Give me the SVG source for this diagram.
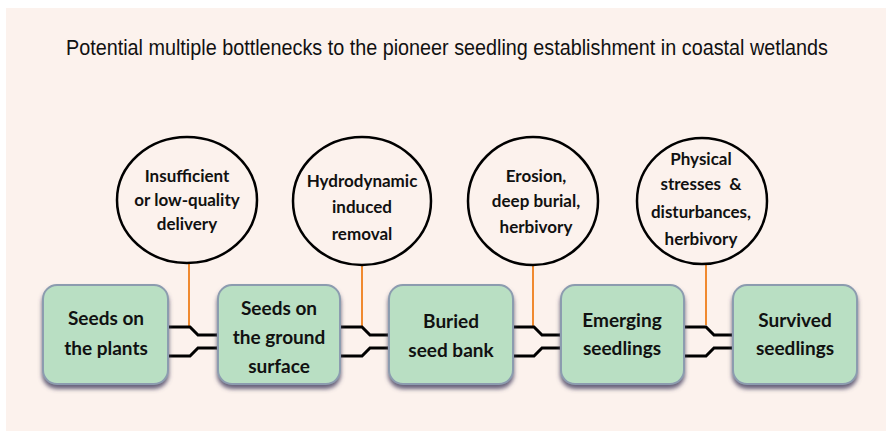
<svg xmlns="http://www.w3.org/2000/svg" width="886" height="431" viewBox="0 0 886 431">
<defs>
<filter id="sh" x="-20%" y="-20%" width="140%" height="150%">
<feDropShadow dx="0" dy="4" stdDeviation="2" flood-color="#4e4a66" flood-opacity="0.85"/>
</filter>
</defs>
<style>
.title{font-family:"Liberation Sans",Arial,sans-serif;font-size:22px;fill:#111}
.box{fill:#b9dfc3;stroke:#8c9caf;stroke-width:2;filter:url(#sh)}
.bt{font-family:Lato,"Open Sans",sans-serif;font-weight:bold;font-size:19px;fill:#111;text-anchor:middle}
.circ{fill:#fcf2ed;stroke:#000;stroke-width:2.5}
.ct{font-family:Lato,"Open Sans",sans-serif;font-weight:bold;font-size:17px;fill:#111;text-anchor:middle}
.or{stroke:#f08a30;stroke-width:2;fill:none}
.bl{stroke:#000;stroke-width:3;fill:none}
.fa{stroke:#8fb39a;stroke-width:1;fill:none;opacity:0.7}
.br{stroke:#333;stroke-width:1;fill:none}
</style>
<rect x="0" y="0" width="886" height="431" fill="#ffffff"/>
<rect x="6" y="8" width="880" height="423" fill="#fcf2ed"/>
<text class="title" transform="translate(447,55) scale(0.9,1)" x="0" y="0" text-anchor="middle">Potential multiple bottlenecks to the pioneer seedling establishment in coastal wetlands</text>

<g id="connectors">
<path class="or" d="M189 263 V327"/>
<path class="or" d="M362 266 V327"/>
<path class="or" d="M533 265 V327"/>
<path class="or" d="M706 265 V325"/>
<path class="fa" d="M148 327 H168 M148 356 H168"/>
<path class="fa" d="M320 327 H340 M320 356 H340"/>
<path class="fa" d="M493 327 H513 M493 356 H513"/>
<path class="fa" d="M664 327 H684 M664 356 H684"/>
<path class="bl" d="M168 327 H190 L198 335 H218 M168 356 H190 L198 348 H218"/>
<path class="bl" d="M340 327 H362 L370 335 H389 M340 356 H362 L370 348 H389"/>
<path class="bl" d="M513 327 H534 L542 335 H561 M513 356 H534 L542 348 H561"/>
<path class="bl" d="M684 327 H706 L714 335 H733 M684 356 H706 L714 348 H733"/>
<path class="br" d="M216 335 H219 V348 H216"/>
<path class="br" d="M387 335 H390 V348 H387"/>
<path class="br" d="M559 335 H562 V348 H559"/>
<path class="br" d="M731 335 H734 V348 H731"/>
</g>

<g id="box1">
<rect class="box" x="43" y="285" width="125" height="99" rx="14"/>
<text class="bt" x="106" y="325">Seeds on</text>
<text class="bt" x="106" y="355">the plants</text>
</g>
<g id="box2">
<rect class="box" x="218" y="285" width="122" height="99" rx="14"/>
<text class="bt" x="279" y="315">Seeds on</text>
<text class="bt" x="279" y="344">the ground</text>
<text class="bt" x="279" y="373">surface</text>
</g>
<g id="box3">
<rect class="box" x="389" y="285" width="124" height="99" rx="14"/>
<text class="bt" x="451" y="328">Buried</text>
<text class="bt" x="451" y="357">seed bank</text>
</g>
<g id="box4">
<rect class="box" x="561" y="285" width="123" height="99" rx="14"/>
<text class="bt" x="622" y="327">Emerging</text>
<text class="bt" x="622" y="355">seedlings</text>
</g>
<g id="box5">
<rect class="box" x="733" y="285" width="124" height="99" rx="14"/>
<text class="bt" x="795" y="327">Survived</text>
<text class="bt" x="795" y="355">seedlings</text>
</g>

<g id="c1">
<ellipse class="circ" cx="187" cy="200" rx="70" ry="63"/>
<text class="ct" x="187" y="182">Insufficient</text>
<text class="ct" x="187" y="206">or low-quality</text>
<text class="ct" x="187" y="230">delivery</text>
</g>
<g id="c2">
<ellipse class="circ" cx="362" cy="201" rx="69" ry="64"/>
<text class="ct" x="362" y="187">Hydrodynamic</text>
<text class="ct" x="362" y="213">induced</text>
<text class="ct" x="362" y="240">removal</text>
</g>
<g id="c3">
<ellipse class="circ" cx="533" cy="201" rx="65" ry="64"/>
<text class="ct" x="536" y="182">Erosion,</text>
<text class="ct" x="536" y="207">deep burial,</text>
<text class="ct" x="536" y="233">herbivory</text>
</g>
<g id="c4">
<ellipse class="circ" cx="702" cy="201" rx="65" ry="63"/>
<text class="ct" x="701" y="165">Physical</text>
<text class="ct" x="701" y="190" xml:space="preserve">stresses  &amp;</text>
<text class="ct" x="701" y="218">disturbances,</text>
<text class="ct" x="701" y="245">herbivory</text>
</g>
</svg>
